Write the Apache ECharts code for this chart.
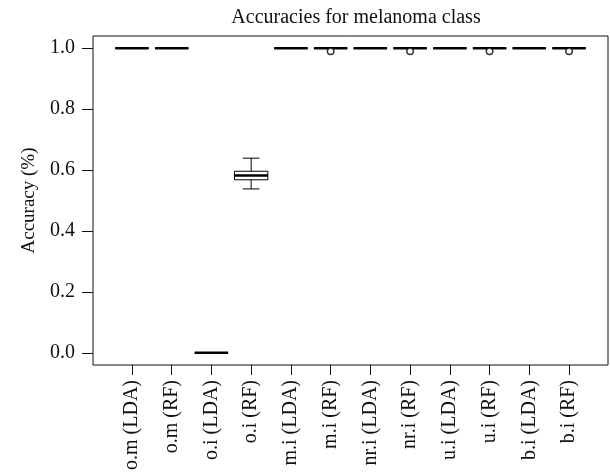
<!DOCTYPE html>
<html><head><meta charset="utf-8">
<script src="https://cdn.jsdelivr.net/npm/echarts@6/dist/echarts.min.js"></script>
<style>html,body{margin:0;padding:0;background:#fff}#c{width:610px;height:473px}</style>
</head><body><div id="c"></div>
<script>
const categories = ['o.m (LDA)','o.m (RF)','o.i (LDA)','o.i (RF)','m.i (LDA)','m.i (RF)','nr.i (LDA)','nr.i (RF)','u.i (LDA)','u.i (RF)','b.i (LDA)','b.i (RF)'];
const boxMin    = [1,1,0,0.538,1,1,1,1,1,1,1,1];
const boxQ1     = [1,1,0,0.568,1,1,1,1,1,1,1,1];
const boxMedian = [1,1,0,0.582,1,1,1,1,1,1,1,1];
const boxQ3     = [1,1,0,0.596,1,1,1,1,1,1,1,1];
const boxMax    = [1,1,0,0.639,1,1,1,1,1,1,1,1];
const outlierIndex = [5,7,9,11];
const outlierValue = [0.99,0.99,0.99,0.99];
const yTicks = [0,0.2,0.4,0.6,0.8,1.0];

const boxData = categories.map((c,i)=>[i,boxMin[i],boxQ1[i],boxMedian[i],boxQ3[i],boxMax[i]]);
const outData = outlierIndex.map((k,j)=>[k,outlierValue[j]]);
const idx = categories.map((c,i)=>i);
const FONT = 'Liberation Serif';
const chart = echarts.init(document.getElementById('c'));
chart.setOption({
  animation:false,
  title:{text:'Accuracies for melanoma class',left:351,top:3,textAlign:'center',
    textStyle:{fontFamily:FONT,fontSize:20,fontWeight:'normal',color:'#111'}},
  grid:{left:93,right:2,top:36,bottom:108,show:true,borderColor:'#111',borderWidth:1,backgroundColor:'transparent'},
  xAxis:{type:'value',min:-0.98,max:11.98,splitLine:{show:false},axisLine:{show:false,onZero:false},
    axisTick:{show:true,customValues:idx,length:10,inside:false,lineStyle:{color:'#111'}},
    axisLabel:{customValues:idx,rotate:90,margin:15,formatter:v=>categories[Math.round(v)],
      fontFamily:FONT,fontSize:20,color:'#111'}},
  yAxis:{type:'value',min:-0.04,max:1.04,splitLine:{show:false},axisLine:{show:false,onZero:false},
    name:'Accuracy (%)',nameLocation:'middle',nameGap:54,nameRotate:90,
    nameTextStyle:{fontFamily:FONT,fontSize:19,color:'#111'},
    axisTick:{show:true,customValues:yTicks,length:11,lineStyle:{color:'#111'}},
    axisLabel:{customValues:yTicks,margin:18,formatter:v=>v.toFixed(1),fontFamily:FONT,fontSize:20,color:'#111'}},
  series:[{
    type:'custom',
    data:boxData,
    encode:{x:0,y:[1,2,3,4,5]},
    renderItem:function(params,api){
      const i=api.value(0);
      const pMin=api.coord([i,api.value(1)]), pQ1=api.coord([i,api.value(2)]),
            pMed=api.coord([i,api.value(3)]), pQ3=api.coord([i,api.value(4)]),
            pMax=api.coord([i,api.value(5)]);
      const unit=api.size([1,0])[0];
      const hw=unit*0.42, cw=hw/2, cx=pMed[0];
      const st={stroke:'#000',lineWidth:1,fill:null};
      return {type:'group',children:[
        {type:'line',shape:{x1:cx,y1:pMax[1],x2:cx,y2:pQ3[1]},style:st},
        {type:'line',shape:{x1:cx,y1:pQ1[1],x2:cx,y2:pMin[1]},style:st},
        {type:'line',shape:{x1:cx-cw,y1:pMax[1],x2:cx+cw,y2:pMax[1]},style:st},
        {type:'line',shape:{x1:cx-cw,y1:pMin[1],x2:cx+cw,y2:pMin[1]},style:st},
        {type:'rect',shape:{x:cx-hw,y:pQ3[1],width:2*hw,height:pQ1[1]-pQ3[1]},style:{stroke:'#000',lineWidth:1,fill:'#fff'}},
        {type:'line',shape:{x1:cx-hw,y1:pMed[1],x2:cx+hw,y2:pMed[1]},style:{stroke:'#000',lineWidth:2.6}}
      ]};
    }
  },{
    type:'scatter',data:outData,symbol:'circle',symbolSize:6.5,
    itemStyle:{color:'#fff',borderColor:'#000',borderWidth:1.5},z:5
  }]
});
</script></body></html>
